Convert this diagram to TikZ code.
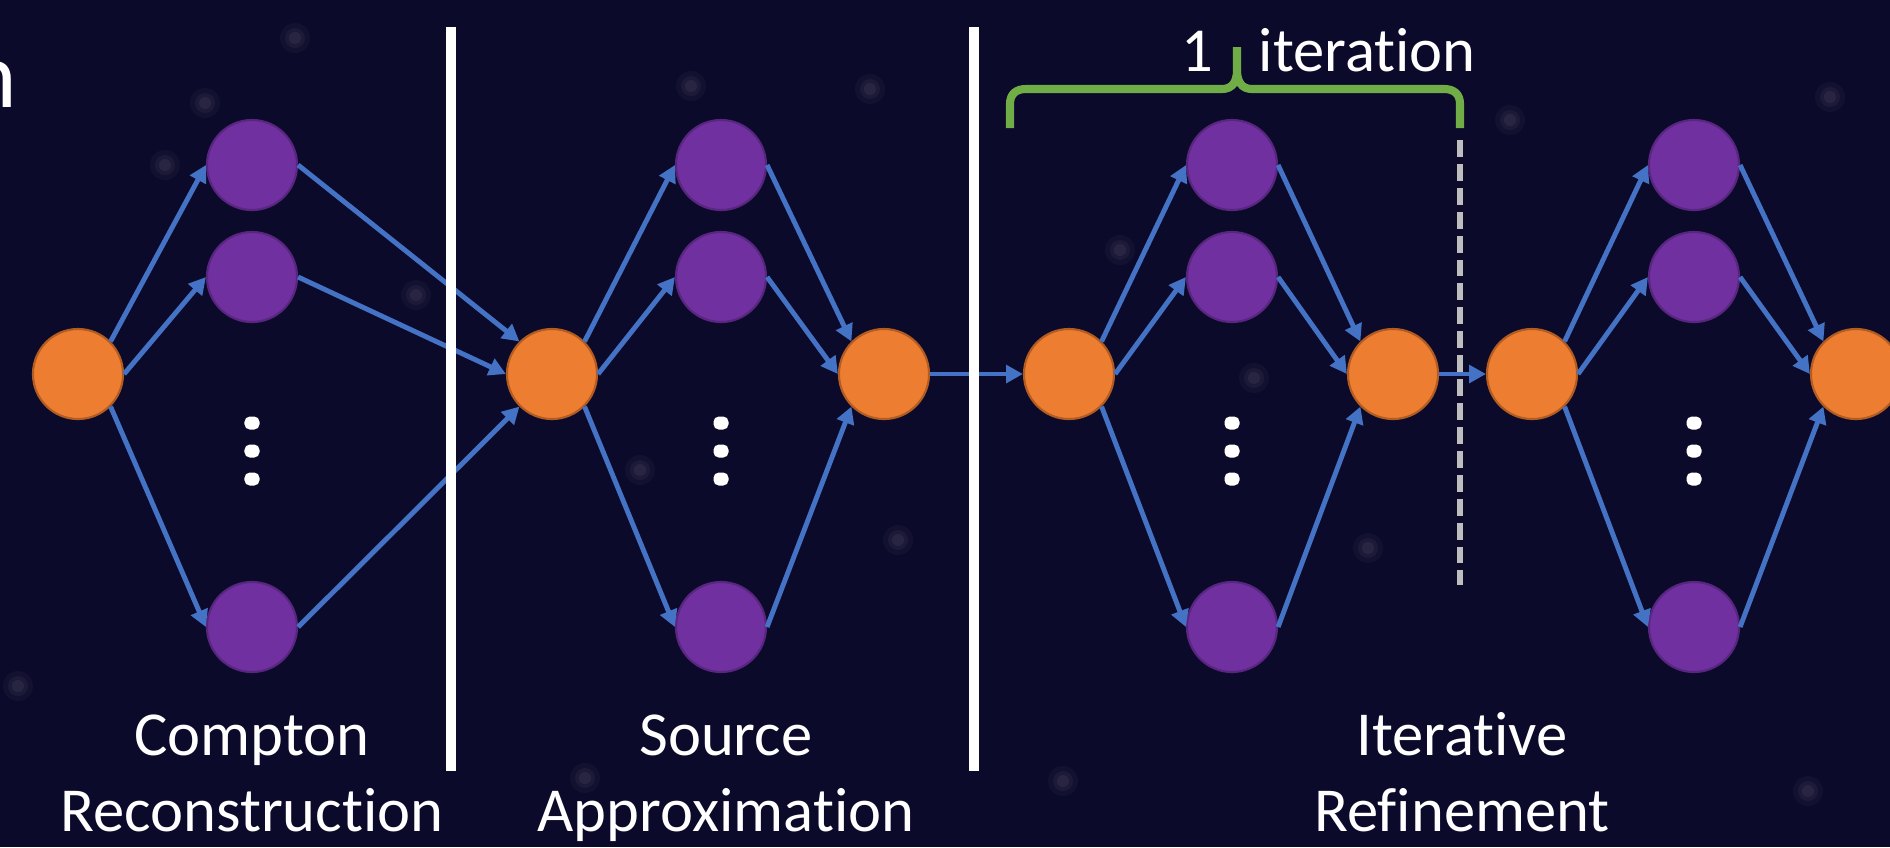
\documentclass[tikz,border=0pt]{standalone}
\usepackage{fontspec}
\setmainfont{Carlito}[Ligatures=NoCommon]
\usetikzlibrary{arrows.meta}
\definecolor{bgnavy}{RGB}{12,10,42}
\definecolor{nodeorange}{RGB}{237,125,49}
\definecolor{orangeedge}{RGB}{178,92,34}
\definecolor{nodepurple}{RGB}{112,48,160}
\definecolor{purpleedge}{RGB}{88,38,128}
\definecolor{linkblue}{RGB}{68,114,196}
\definecolor{bracegreen}{RGB}{112,173,71}
\definecolor{dashgray}{RGB}{190,190,190}
\begin{document}
\begin{tikzpicture}[x=0.01cm,y=-0.01cm,
    onode/.style={circle,fill=nodeorange,draw=orangeedge,line width=0.6pt,minimum size=0.9cm,inner sep=0pt},
    pnode/.style={circle,fill=nodepurple,draw=purpleedge,line width=0.6pt,minimum size=0.9cm,inner sep=0pt},
    link/.style={linkblue,line width=1.4pt,-{Triangle[length=4.8pt,width=5pt]}},
    vdot/.style={fill=white,rounded corners=1.5pt,minimum width=0.15cm,minimum height=0.13cm,inner sep=0pt},
    txt/.style={text=white,font=\fontsize{17.8}{21}\selectfont,inner sep=0pt}]
        % sfondo
        \fill[bgnavy](0,0) rectangle (1890,847);
        \useasboundingbox (0,0) rectangle (1890,847);
        % stelle
        \foreach \sx/\sy in {205/103,691/86,870/89,18/686,1254/378,1368/548,1808/791,1830/97,295/38,1063/781,585/778,898/540,165/165,416/295,1510/120,640/470,1120/250,1700/610}{
            \fill[white,opacity=0.03](\sx,\sy) circle (0.15cm);
            \fill[white,opacity=0.04](\sx,\sy) circle (0.10cm);
            \fill[white,opacity=0.05](\sx,\sy) circle (0.06cm);
        }
        % resto del titolo
        \node[text=white,font=\fontsize{26.8}{30}\selectfont,inner sep=0pt,anchor=base east] (cut) at (18,107) {n};

        % nodi arancioni
        \node[onode] (o1) at (78,374) {};
        \node[onode] (o2) at (552,374) {};
        \node[onode] (o3) at (884,374) {};
        \node[onode] (o4) at (1069,374) {};
        \node[onode] (o5) at (1393,374) {};
        \node[onode] (o6) at (1532,374) {};
        \node[onode] (o7) at (1856,374) {};
        % nodi viola
        \node[pnode] (p1a) at (252,165) {};
        \node[pnode] (p1b) at (252,277) {};
        \node[pnode] (p1c) at (252,627) {};
        \node[pnode] (p2a) at (721,165) {};
        \node[pnode] (p2b) at (721,277) {};
        \node[pnode] (p2c) at (721,627) {};
        \node[pnode] (p3a) at (1232,165) {};
        \node[pnode] (p3b) at (1232,277) {};
        \node[pnode] (p3c) at (1232,627) {};
        \node[pnode] (p4a) at (1694,165) {};
        \node[pnode] (p4b) at (1694,277) {};
        \node[pnode] (p4c) at (1694,627) {};
        % puntini
        \node[vdot] (d1a) at (252,423) {};
        \node[vdot] (d1b) at (252,451) {};
        \node[vdot] (d1c) at (252,479) {};
        \node[vdot] (d2a) at (721,423) {};
        \node[vdot] (d2b) at (721,451) {};
        \node[vdot] (d2c) at (721,479) {};
        \node[vdot] (d3a) at (1232,423) {};
        \node[vdot] (d3b) at (1232,451) {};
        \node[vdot] (d3c) at (1232,479) {};
        \node[vdot] (d4a) at (1694,423) {};
        \node[vdot] (d4b) at (1694,451) {};
        \node[vdot] (d4c) at (1694,479) {};

        % blocco 1
        \draw[link](o1.north east)--(p1a.west);
        \draw[link](o1.east)--(p1b.west);
        \draw[link](o1.south east)--(p1c.west);
        \draw[link](p1a.east)--(o2.north west);
        \draw[link](p1b.east)--(o2.west);
        \draw[link](p1c.east)--(o2.south west);
        % blocco 2
        \draw[link](o2.north east)--(p2a.west);
        \draw[link](o2.east)--(p2b.west);
        \draw[link](o2.south east)--(p2c.west);
        \draw[link](p2a.east)--(o3.north west);
        \draw[link](p2b.east)--(o3.west);
        \draw[link](p2c.east)--(o3.south west);
        \draw[link](o3.east)--(o4.west);
        % blocco 3
        \draw[link](o4.north east)--(p3a.west);
        \draw[link](o4.east)--(p3b.west);
        \draw[link](o4.south east)--(p3c.west);
        \draw[link](p3a.east)--(o5.north west);
        \draw[link](p3b.east)--(o5.west);
        \draw[link](p3c.east)--(o5.south west);
        \draw[link](o5.east)--(o6.west);
        % blocco 4
        \draw[link](o6.north east)--(p4a.west);
        \draw[link](o6.east)--(p4b.west);
        \draw[link](o6.south east)--(p4c.west);
        \draw[link](p4a.east)--(o7.north west);
        \draw[link](p4b.east)--(o7.west);
        \draw[link](p4c.east)--(o7.south west);

        % separatori
        \draw[white,line width=3.1pt](451,27)--(451,771);
        \draw[white,line width=3.1pt](974,27)--(974,771);
        \draw[dashgray,line width=1.7pt,dash pattern=on 4.8pt off 2pt](1460,140)--(1460,585);
        % graffa
        \draw[bracegreen,line width=2.3pt,line join=round](1010,128)--(1010,104) .. controls (1010,94) and (1016,89) .. (1026,89)--(1222,89) .. controls (1232,89) and (1237,82) .. (1237,70)--(1237,47);
        \draw[bracegreen,line width=2.3pt,line join=round](1237,70) .. controls (1237,82) and (1242,89) .. (1252,89)--(1444,89) .. controls (1454,89) and (1460,94) .. (1460,104)--(1460,128);

        % testi
        \node[txt,anchor=base] (one) at (1197,71) {1};
        \node[txt,anchor=base west] (iter) at (1258,71) {iteration};
        \node[txt,anchor=base] (comp) at (252,755) {Compton};
        \node[txt,anchor=base] (recon) at (252,831) {Reconstruction};
        \node[txt,anchor=base] (src) at (726,755) {Source};
        \node[txt,anchor=base] (approx) at (726,831) {Approximation};
        \node[txt,anchor=base] (itv) at (1462,755) {Iterative};
        \node[txt,anchor=base] (refine) at (1462,831) {Refinement};
    \end{tikzpicture}
\end{document}
